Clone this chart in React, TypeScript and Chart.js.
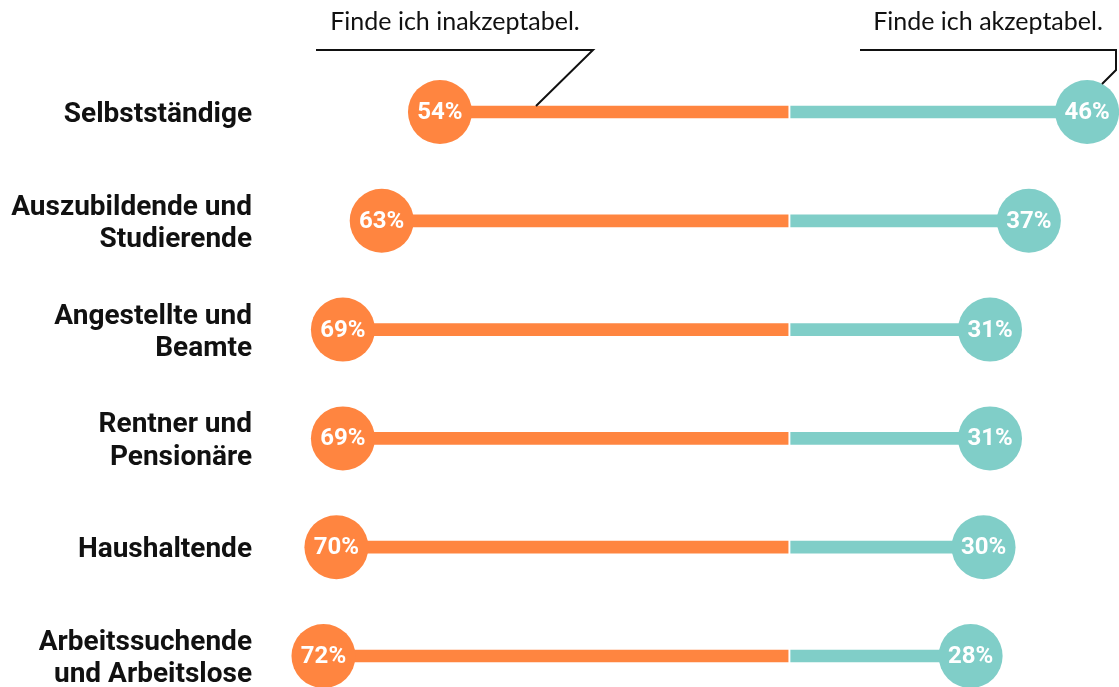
import React, { useEffect, useRef } from "react";
import { Chart, registerables } from "chart.js";

Chart.register(...registerables);

const categories: (string | string[])[] = [
  "Selbstständige",
  ["Auszubildende und", "Studierende"],
  ["Angestellte und", "Beamte"],
  ["Rentner und", "Pensionäre"],
  "Haushaltende",
  ["Arbeitssuchende", "und Arbeitslose"],
];
const unacceptable = [54, 63, 69, 69, 70, 72];
const acceptable = [46, 37, 31, 31, 30, 28];
const headerLeft = "Finde ich inakzeptabel.";
const headerRight = "Finde ich akzeptabel.";

const ORANGE = "rgb(255,133,64)";
const TEAL = "rgb(128,206,200)";
const GAP = 0.2;

const valueLabels = {
  id: "valueLabels",
  afterDatasetsDraw(chart: any) {
    const ctx = chart.ctx;
    ctx.save();
    ctx.fillStyle = "#ffffff";
    ctx.font = "bold 24px Roboto";
    ctx.textAlign = "center";
    ctx.textBaseline = "middle";
    [2, 3].forEach((di) => {
      const meta = chart.getDatasetMeta(di);
      const src = di === 2 ? unacceptable : acceptable;
      meta.data.forEach((el: any, i: number) => {
        ctx.fillText(src[i] + "%", el.x, el.y + 1);
      });
    });
    ctx.restore();
  },
};

const headers = {
  id: "headers",
  afterDraw(chart: any) {
    const ctx = chart.ctx;
    ctx.save();
    ctx.fillStyle = "#111";
    ctx.font = "25px Lato";
    ctx.textAlign = "center";
    ctx.textBaseline = "alphabetic";
    ctx.fillText(headerLeft, 455, 30);
    ctx.fillText(headerRight, 988, 30);
    ctx.strokeStyle = "#111";
    ctx.lineWidth = 2;
    ctx.lineJoin = "miter";
    ctx.beginPath();
    ctx.moveTo(316, 50);
    ctx.lineTo(593, 50);
    ctx.lineTo(536, 106);
    ctx.stroke();
    ctx.beginPath();
    ctx.moveTo(860, 50);
    ctx.lineTo(1116, 50);
    ctx.lineTo(1116, 70);
    ctx.lineTo(1102, 84);
    ctx.stroke();
    ctx.restore();
  },
};

export default function App() {
  const ref = useRef<HTMLCanvasElement>(null);
  useEffect(() => {
    if (!ref.current) return;
    const chart = new Chart(ref.current, {
      type: "bar",
      data: {
        labels: categories as any,
        datasets: [
          {
            type: "bar",
            data: unacceptable.map((v) => [-v, -GAP]) as any,
            backgroundColor: ORANGE,
            barThickness: 12,
            grouped: false,
            clip: false,
            order: 2,
          } as any,
          {
            type: "bar",
            data: acceptable.map((v) => [GAP, v]) as any,
            backgroundColor: TEAL,
            barThickness: 12,
            grouped: false,
            clip: false,
            order: 2,
          } as any,
          {
            type: "line",
            data: unacceptable.map((v, i) => ({ x: -v, y: i })),
            showLine: false,
            pointRadius: 32,
            pointHoverRadius: 32,
            pointBackgroundColor: ORANGE,
            pointBorderWidth: 0,
            clip: false,
            order: 0,
          } as any,
          {
            type: "line",
            data: acceptable.map((v, i) => ({ x: v, y: i })),
            showLine: false,
            pointRadius: 32,
            pointHoverRadius: 32,
            pointBackgroundColor: TEAL,
            pointBorderWidth: 0,
            clip: false,
            order: 0,
          } as any,
        ],
      },
      options: {
        indexAxis: "y",
        animation: false,
        responsive: true,
        maintainAspectRatio: false,
        layout: { autoPadding: false, padding: { top: 112, bottom: 31, left: 0, right: 0 } },
        plugins: {
          legend: { display: false },
          tooltip: { enabled: false },
        },
        scales: {
          x: { type: "linear", min: -81.5, max: 50.93, display: false },
          y: {
            type: "category",
            offset: false,
            grid: { display: false, drawTicks: false },
            border: { display: false },
            ticks: {
              autoSkip: false,
              padding: 10,
              labelOffset: 3,
              color: "#111",
              font: { family: "Roboto", weight: "bold", size: 28, lineHeight: 1.15 },
            },
            afterFit: (s: any) => {
              s.width = 262;
            },
          },
        },
      } as any,
      plugins: [valueLabels, headers],
    });
    return () => chart.destroy();
  }, []);
  return (
    <div style={{ position: "fixed", left: 0, top: 0, width: 1119, height: 687 }}>
      <canvas ref={ref} />
    </div>
  );
}
